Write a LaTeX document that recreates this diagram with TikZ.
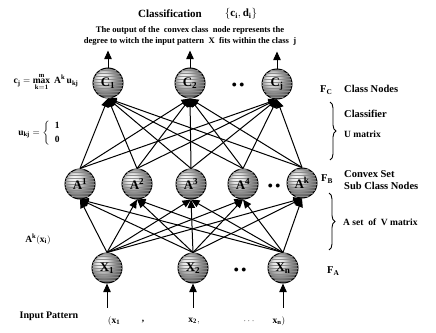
\documentclass[tikz,border=0pt]{standalone}
\usepackage{fontspec}
\setmainfont{Liberation Serif}
\usetikzlibrary{positioning,arrows.meta,decorations.pathreplacing,patterns}
\tikzset{
  unit/.style={circle,draw,line width=1pt,minimum size=30pt,inner sep=0pt,
    shading=ball,ball color=gray!30,
    postaction={pattern=horizontal lines,pattern color=black!45},
    font=\bfseries\fontsize{13}{13}\selectfont},
  arr/.style={-{Triangle[length=3mm,width=2.6mm]},line width=1pt},
  lbl/.style={font=\bfseries\fontsize{10.5}{12}\selectfont,anchor=west,align=left,inner sep=0pt},
  note/.style={font=\bfseries\fontsize{8.6}{10.5}\selectfont,align=center,inner sep=0pt},
  eq/.style={font=\bfseries\fontsize{9.5}{11}\selectfont,inner sep=0pt},
  dots/.style={font=\normalsize},
  brc/.style={decorate,decoration={brace,amplitude=6pt},line width=0.9pt}
}
\begin{document}
\begin{tikzpicture}[x=1pt,y=-1pt]
  \useasboundingbox (0,0) rectangle (436,332);
  % layers
  \node[unit] (c1) at (108,83) {$\mathbf{C_1}$};
  \node[unit] (c2) at (190,83) {$\mathbf{C_2}$};
  \node[unit] (c3) at (277,84) {$\mathbf{C_j}$};
  \node[unit] (a1) at (80,184) {$\mathbf{A^1}$};
  \node[unit] (a2) at (137,184) {$\mathbf{A^2}$};
  \node[unit] (a3) at (191,184) {$\mathbf{A^3}$};
  \node[unit] (a4) at (243,184) {$\mathbf{A^4}$};
  \node[unit] (a5) at (302,183) {$\mathbf{A^k}$};
  \node[unit] (x1) at (107,268) {$\mathbf{X_1}$};
  \node[unit] (x2) at (193,268) {$\mathbf{X_2}$};
  \node[unit] (x3) at (283,268) {$\mathbf{X_n}$};
  \node[dots] (d1) at (238,85) {$\bullet\ \bullet$};
  \node[dots] (d2) at (274,186) {$\bullet\ \bullet$};
  \node[dots] (d3) at (240,270) {$\bullet\ \bullet$};
  % connections
  \foreach \a in {a1,a2,a3,a4,a5}
    \foreach \c in {c1,c2,c3}
      \draw[arr] (\a.north) -- (\c.south);
  \foreach \x in {x1,x2,x3}
    \foreach \a in {a1,a2,a3,a4,a5}
      \draw[arr] (\x.north) -- (\a.south);
  % outputs and inputs
  \foreach \c in {c1,c2,c3} {
    \coordinate (\c o) at ([yshift=17pt]\c.north);
    \draw[arr] (\c.north) -- (\c o);
  }
  \foreach \x in {x1,x2,x3} {
    \coordinate (\x i) at ([yshift=-24pt]\x.south);
    \draw[arr] (\x i) -- (\x.south);
  }
  % titles
  \node[font=\bfseries\fontsize{11}{12}\selectfont] (title) at (170,14) {Classification};
  \node[font=\bfseries\fontsize{11}{12}\selectfont] (cd) at (241,14) {$\mathbf{\{c_i,d_i\}}$};
  \node[note] (expl) at (190,36) {The output of the\ \ convex class\ \ node represents the\\degree to witch the input pattern\ \ X\ \ fits within the class\ \ j};
  % left labels
  \node[eq] (ceq) at (46,82) {$\mathbf{c_j}=\mathop{\mathbf{max}}\limits_{\mathbf{k=1}}^{\mathbf{m}}\ \mathbf{A^k\,u_{kj}}$};
  \node[eq] (ueq) at (42,133) {$\mathbf{u_{kj}}=\left\{\begin{array}{l}\mathbf{1}\\[3pt]\mathbf{0}\end{array}\right.$};
  \node[eq] (ax) at (38,239) {$\mathbf{A^k(x_i)}$};
  \node[font=\bfseries\fontsize{10}{11}\selectfont] (inp) at (49,316) {Input Pattern};
  \node[eq] (in1) at (114,321) {$\mathbf{(x_1}$};
  \node[eq] (in2) at (143,322) {,};
  \node[eq] (in3) at (194,321) {$\mathbf{x_2,}$};
  \node[eq] (in4) at (249,321) {$\cdots$};
  \node[eq] (in5) at (279,321) {$\mathbf{x_n)}$};
  % right labels
  \node[lbl] (fc) at (320,90) {F$_\mathbf{C}$};
  \node[lbl] (fcl) at (344,89) {Class Nodes};
  \coordinate (b1t) at (330,102);
  \coordinate (b1b) at (330,160);
  \draw[brc] (b1t) -- (b1b);
  \node[lbl] (cls) at (344,114) {Classifier};
  \node[lbl,font=\bfseries\fontsize{9.5}{11}\selectfont] (um) at (344,134) {U matrix};
  \node[lbl] (fb) at (321,179) {F$_\mathbf{B}$};
  \node[lbl] (fbl) at (344,180) {Convex Set\\Sub Class Nodes};
  \coordinate (b2t) at (329,193);
  \coordinate (b2b) at (329,250);
  \draw[brc] (b2t) -- (b2b);
  \node[lbl,font=\bfseries\fontsize{9.5}{11}\selectfont] (vm) at (343,222) {A set\ \ of\ \ V matrix};
  \node[lbl] (fa) at (327,271) {F$_\mathbf{A}$};
\end{tikzpicture}
\end{document}
